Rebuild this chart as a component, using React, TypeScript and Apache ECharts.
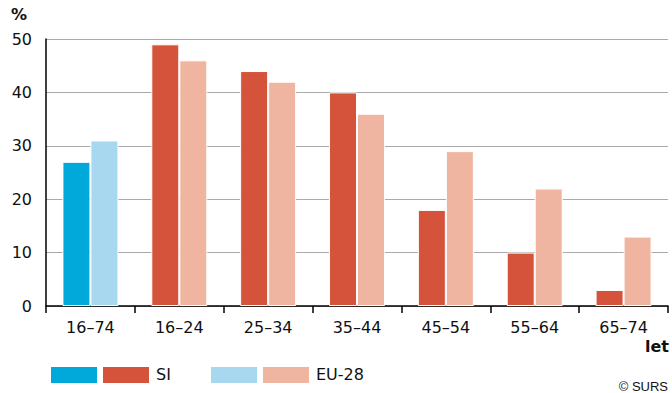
import React, { useEffect, useRef } from "react";
import * as echarts from "echarts";

const categories = ["16–74", "16–24", "25–34", "35–44", "45–54", "55–64", "65–74"];
const siValues = [27, 49, 44, 40, 18, 10, 3];
const euValues = [31, 46, 42, 36, 29, 22, 13];
const yTicks = [0, 10, 20, 30, 40, 50];

const SI_TOTAL = "#00a9d9";
const EU_TOTAL = "#a7d8ef";
const SI_AGE = "#d5533b";
const EU_AGE = "#efb5a0";
const FONT = "'DejaVu Sans', sans-serif";

export default function App() {
  const ref = useRef<HTMLDivElement>(null);

  useEffect(() => {
    document.body.style.margin = "0";
    document.body.style.overflow = "hidden";
    if (!ref.current) return;
    const chart = echarts.init(ref.current, null, { renderer: "svg" });
    const withColors = (vals: number[], first: string, rest: string) =>
      vals.map((v, i) => ({ value: v, itemStyle: { color: i === 0 ? first : rest } }));

    chart.setOption({
      animation: false,
      grid: { left: 46, right: 4, top: 39, bottom: 87, containLabel: false },
      xAxis: {
        type: "category",
        data: categories,
        axisLine: { lineStyle: { color: "#000", width: 1.5 } },
        axisTick: { show: true, length: 7, lineStyle: { color: "#000", width: 1.5 } },
        axisLabel: { color: "#111", fontSize: 16, fontFamily: FONT, margin: 13 },
      },
      yAxis: {
        type: "value",
        min: 0,
        max: 50,
        interval: 10,
        axisLine: { show: true, lineStyle: { color: "#000", width: 1.5 } },
        axisTick: { show: false },
        axisLabel: {
          color: "#111",
          fontSize: 16,
          fontFamily: FONT,
          margin: 14,
          formatter: (v: number) => (yTicks.includes(v) ? String(v) : ""),
        },
        splitLine: { show: true, lineStyle: { color: "#aaaaaa", width: 1.2 } },
      },
      series: [
        {
          name: "SI",
          type: "bar",
          data: withColors(siValues, SI_TOTAL, SI_AGE),
          barWidth: 28,
          barGap: "0%",
          itemStyle: { borderColor: "#fff", borderWidth: 1 },
        },
        {
          name: "EU-28",
          type: "bar",
          data: withColors(euValues, EU_TOTAL, EU_AGE),
          barWidth: 28,
          barGap: "0%",
          itemStyle: { borderColor: "#fff", borderWidth: 1 },
        },
      ],
      graphic: [
        { type: "text", x: 11, y: 6, style: { text: "%", font: `bold 16px ${FONT}`, fill: "#111" } },
        { type: "text", x: 669, y: 338, style: { text: "let", font: `bold 16px ${FONT}`, fill: "#111", align: "right" } },
        { type: "text", x: 668, y: 380, style: { text: "© SURS", font: `13px 'Liberation Sans', Arial, sans-serif`, fill: "#111", align: "right" } },
        { type: "rect", shape: { x: 51, y: 367, width: 46, height: 16 }, style: { fill: SI_TOTAL } },
        { type: "rect", shape: { x: 103, y: 367, width: 46, height: 16 }, style: { fill: SI_AGE } },
        { type: "text", x: 156, y: 366, style: { text: "SI", font: `16px ${FONT}`, fill: "#111" } },
        { type: "rect", shape: { x: 211, y: 367, width: 46, height: 16 }, style: { fill: EU_TOTAL } },
        { type: "rect", shape: { x: 263, y: 367, width: 46, height: 16 }, style: { fill: EU_AGE } },
        { type: "text", x: 316, y: 366, style: { text: "EU-28", font: `16px ${FONT}`, fill: "#111" } },
      ],
    });
    return () => chart.dispose();
  }, []);

  return <div ref={ref} style={{ width: 672, height: 393 }} />;
}
